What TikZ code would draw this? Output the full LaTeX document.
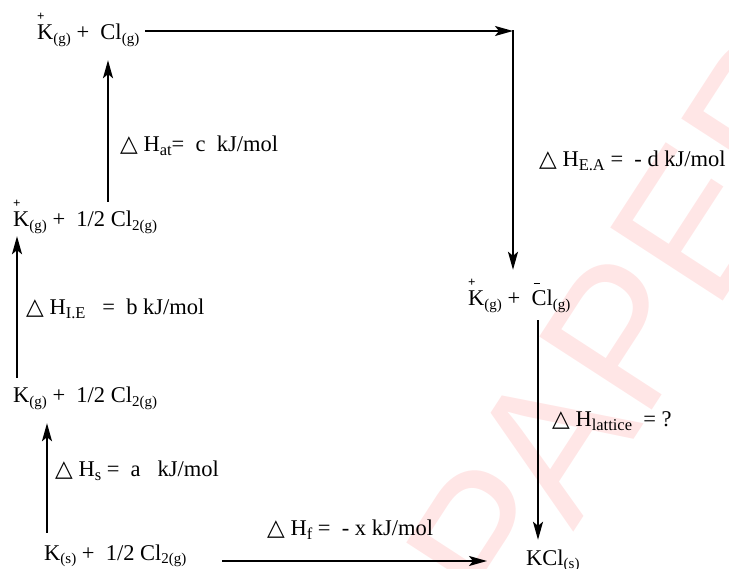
\documentclass[tikz,border=0pt]{standalone}
\usepackage{fontspec}
\setmainfont{Liberation Serif}
\newfontfamily\symfont{DejaVu Sans}
\newfontfamily\wmfont{Liberation Sans}
\usetikzlibrary{arrows.meta}
\definecolor{wmpink}{RGB}{255,230,230}
\newcommand\sbs[1]{\raisebox{-3.5pt}{\fontsize{15}{15}\selectfont #1}}
\newcommand\sbh[1]{\raisebox{-4pt}{\fontsize{16.5}{16.5}\selectfont #1}}
\newcommand\ionp[1]{\makebox[0pt][l]{\raisebox{19.5pt}{\fontsize{13}{13}\selectfont\bfseries +}}#1}
\newcommand\ionm[1]{\makebox[0pt][l]{\hspace{2pt}\raisebox{21.5pt}{\rule{6pt}{1.5pt}}}#1}
\newcommand\dtri{{\symfont\fontsize{23}{23}\selectfont △}}
\begin{document}
\begin{tikzpicture}[x=1pt,y=-1pt,
  txt/.style={inner sep=0pt, anchor=base west, text height=15pt, text depth=6pt,
    font=\fontsize{22.5}{24}\selectfont},
  arr/.style={line width=1.9pt, -{Stealth[length=18pt,width=10pt,inset=4pt]}},
  wm/.style={inner sep=0pt, anchor=base west, text=wmpink,
    font=\wmfont\fontsize{195}{195}\selectfont}]
\useasboundingbox (0,0) rectangle (729,569);
\begin{scope}
\clip (0,0) rectangle (729,569);
\node[wm, rotate=57] (wm) at (510,630) {PAPER};
\end{scope}
% species
\node[txt] (n1) at (37,40) {\ionp{K}\sbs{(g)} +~~Cl\sbs{(g)}};
\node[txt] (n3) at (13,227) {\ionp{K}\sbs{(g)} +~~1/2 Cl\sbs{2(g)}};
\node[txt] (n5) at (13,403) {K\sbs{(g)} +~~1/2 Cl\sbs{2(g)}};
\node[txt] (n7) at (44,560) {K\sbs{(s)} +~~1/2 Cl\sbs{2(g)}};
\node[txt] (n11) at (468,306) {\ionp{K}\sbs{(g)} +~~\ionm{C}l\sbs{(g)}};
\node[txt] (n9) at (526,565) {KCl\sbs{(s)}};
% labels
\node[txt] (l1) at (120,152) {\dtri\ H\sbh{at}=~~c~~kJ/mol};
\node[txt] (l2) at (26,315) {\dtri\ H\sbh{I.E}~~~=~~b kJ/mol};
\node[txt] (l3) at (55,477) {\dtri\ H\sbh{s} =~~a~~~kJ/mol};
\node[txt] (l4) at (267,535) {\dtri\ H\sbh{f} =~~- x kJ/mol};
\node[txt] (l5) at (552,427) {\dtri\ H\sbh{lattice}~~= ?};
\node[txt] (l6) at (539,167) {\dtri\ H\sbh{E.A} =~~- d kJ/mol};
% helper coordinates
\coordinate (ax1) at (108,0);
\coordinate (ax2) at (17,0);
\coordinate (ax3) at (47,0);
\coordinate (ax6) at (538,0);
\coordinate (corner) at (513,31);
\coordinate (s4) at (222,561);
% connectors
\draw[arr, shorten <=10pt, shorten >=14pt] (n3.north -| ax1) -- (n1.south -| ax1);
\draw[arr, shorten <=10pt, shorten >=3pt] (n5.north -| ax2) -- (n3.south -| ax2);
\draw[arr, shorten <=12pt, shorten >=14pt] (n7.north -| ax3) -- (n5.south -| ax3);
\draw[arr, shorten <=6pt] (n1.east |- corner) -- (corner);
\draw[line width=1.9pt] (corner) -- ++(0,-0.95);
\draw[arr, shorten >=21pt] (corner) -- (corner |- n11.north);
\draw[arr, shorten <=8pt, shorten >=10pt] (n11.south -| ax6) -- (n9.north -| ax6);
\draw[arr] (s4) -- (n9.west |- s4) [shorten >=39pt];
\end{tikzpicture}
\end{document}
